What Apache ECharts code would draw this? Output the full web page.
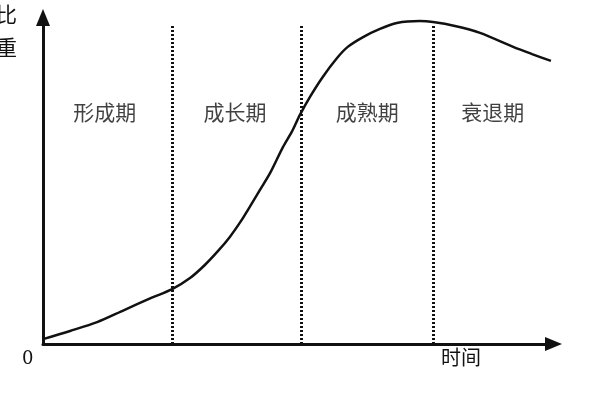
<!DOCTYPE html>
<html>
<head>
<meta charset="utf-8">
<script src="https://cdn.jsdelivr.net/npm/echarts@6/dist/echarts.min.js"></script>
<style>
  html, body { margin: 0; padding: 0; background: #fff; }
  #app { width: 600px; height: 400px; }
</style>
</head>
<body>
<div id="app"></div>
<script>
// 曲线取样点 (时间, 比重)
var curveX = [0, 5.3, 10.6, 15.9, 21.2, 25.3, 28.8, 31.7, 34.3, 36.6, 38.8, 40.5, 42.5, 44.5, 47.0, 48.8, 50.3, 52.3, 54.8, 57.6, 59.7, 62.7, 66.0, 69.3, 73.8, 76.4, 80.7, 85.6, 92.1, 95.8, 99.5];
var curveY = [1.5, 4.0, 6.7, 10.4, 14.1, 16.8, 20.2, 24.2, 28.5, 32.8, 37.7, 42.0, 47.2, 52.4, 60.3, 65.2, 70.1, 75.7, 81.8, 87.6, 91.0, 94.0, 96.5, 98.3, 98.9, 98.6, 97.4, 95.3, 91.0, 88.8, 86.7];
// 阶段分界线
var phaseBounds = [25.3, 50.5, 76.4];
var boundTop = 98;
// 阶段名称
var phaseNames = ['形成期', '成长期', '成熟期', '衰退期'];
var phaseCenters = [12.1, 37.6, 63.5, 88.1];
var phaseLabelY = 71.1;

var cjk = 'Noto Sans CJK SC';
var myEchart = echarts.init(document.getElementById('app'));

var axisLine = {
    show: true,
    symbol: ['none', 'triangle'],
    symbolSize: [14, 17],
    lineStyle: { color: '#111', width: 3 }
};

var option = {
    animation: false,
    grid: { left: 43, right: 46.5, top: 17.5, bottom: 56 },
    xAxis: {
        type: 'value', min: 0, max: 100,
        axisLine: axisLine,
        axisTick: { show: false },
        splitLine: { show: false },
        axisLabel: { show: false }
    },
    yAxis: {
        type: 'value', min: 0, max: 100,
        axisLine: axisLine,
        axisTick: { show: false },
        splitLine: { show: false },
        axisLabel: { show: false }
    },
    graphic: [
        { type: 'text', left: -4, top: 4, style: { text: '比', fontFamily: cjk, fontSize: 21, fill: '#111' } },
        { type: 'text', left: -4, top: 37, style: { text: '重', fontFamily: cjk, fontSize: 21, fill: '#111' } },
        { type: 'text', left: 22, top: 350, style: { text: '0', fontFamily: 'DejaVu Serif', fontSize: 18, fill: '#111' } },
        { type: 'text', left: 441, top: 347, style: { text: '时间', fontFamily: cjk, fontSize: 20, fill: '#111' } }
    ],
    series: [
        {
            type: 'line',
            smooth: 0.3,
            symbol: 'none',
            lineStyle: { color: '#111', width: 2.5 },
            data: curveX.map(function (x, i) { return [x, curveY[i]]; }),
            markLine: {
                silent: true,
                symbol: 'none',
                label: { show: false },
                lineStyle: { color: '#111', width: 3, type: [2, 2] },
                data: phaseBounds.map(function (x) {
                    return [{ coord: [x, 0] }, { coord: [x, boundTop] }];
                })
            }
        },
        {
            type: 'scatter',
            symbolSize: 0,
            silent: true,
            label: {
                show: true,
                position: 'inside',
                formatter: function (p) { return p.data[2]; },
                fontFamily: cjk,
                fontSize: 21,
                color: '#111'
            },
            data: phaseNames.map(function (n, i) { return [phaseCenters[i], phaseLabelY, n]; })
        }
    ]
};

myEchart.setOption(option);
</script>
</body>
</html>
